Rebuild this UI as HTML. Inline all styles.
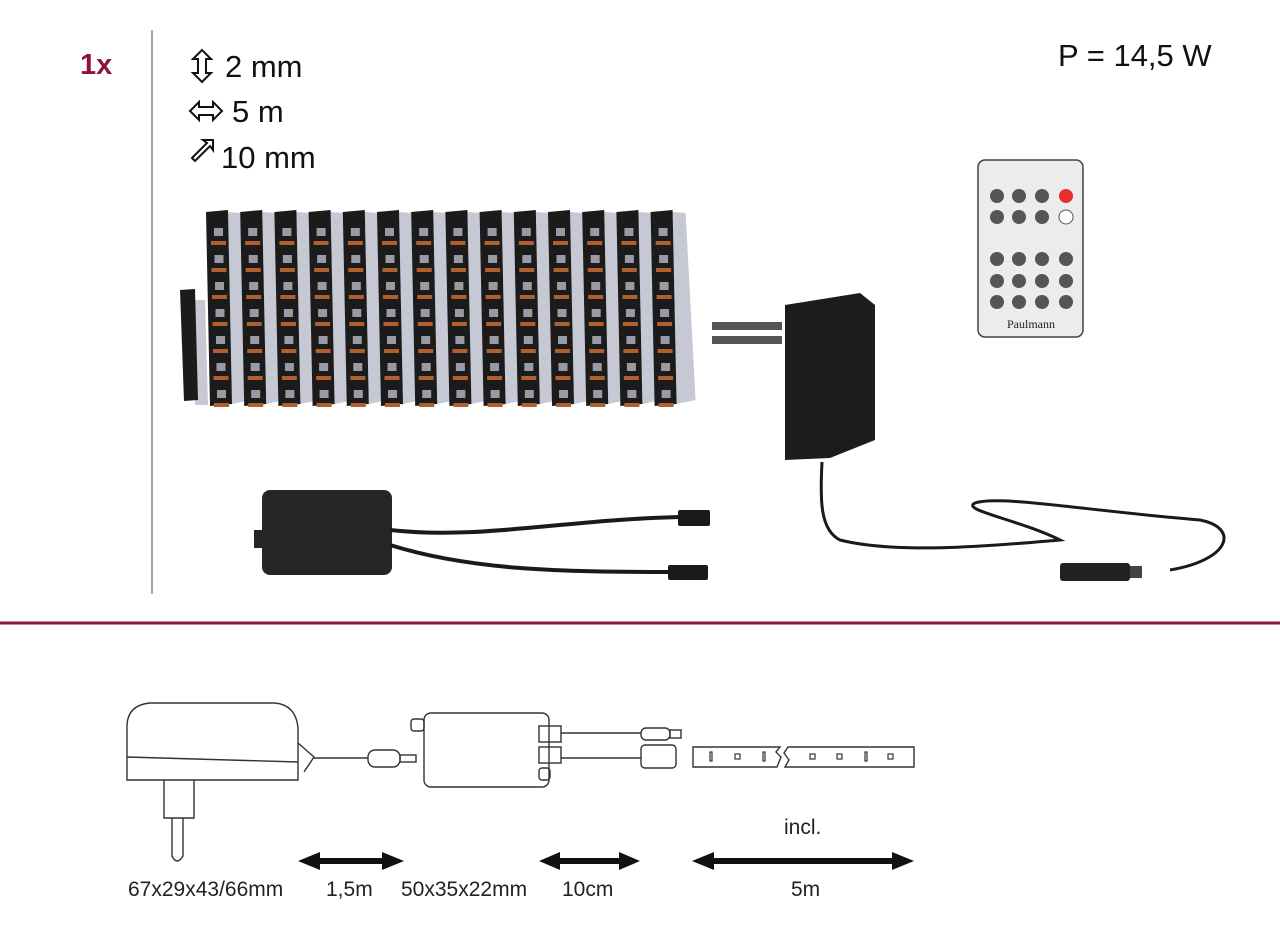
<!DOCTYPE html>
<html><head><meta charset="utf-8"><style>
html,body{margin:0;padding:0;background:#fff;}
body{width:1280px;height:943px;overflow:hidden;position:relative;font-family:"Liberation Sans","DejaVu Sans",sans-serif;}
</style></head><body>
<svg width="1280" height="943" viewBox="0 0 1280 943" xmlns="http://www.w3.org/2000/svg" style="position:absolute;left:0;top:0">
<line x1="152" y1="30" x2="152" y2="594" stroke="#888" stroke-width="1.5"/>
<line x1="0" y1="623" x2="1280" y2="623" stroke="#8a1538" stroke-width="3"/>
<text x="80" y="74" font-family="Liberation Sans" font-weight="bold" font-size="29" fill="#8a1538">1x</text>
<g font-family="Liberation Sans" font-size="31" fill="#111">
<text x="225" y="77">2 mm</text>
<text x="232" y="122">5 m</text>
<text x="221" y="168">10 mm</text>
<text x="1058" y="66">P = 14,5 W</text>
</g>
<g fill="#fff" stroke="#111" stroke-width="2">
<path d="M193 59 l9 -9 l9 9 h-5 v14 h5 l-9 9 l-9 -9 h5 v-14z"/>
<path d="M190 111 l9 -9 v5 h14 v-5 l9 9 l-9 9 v-5 h-14 v5z"/>
<path d="M192 158 l15 -15 l-4 -3 h10 v10 l-3 -4 l-15 15z"/>
</g>
<!-- controller -->
<rect x="262" y="490" width="130" height="85" rx="8" fill="#262626"/>
<rect x="254" y="530" width="12" height="18" fill="#262626"/>
<path d="M390 530 C480 540 560 520 680 517" stroke="#1a1a1a" stroke-width="4" fill="none"/>
<path d="M390 545 C470 570 560 572 670 572" stroke="#1a1a1a" stroke-width="4" fill="none"/>
<rect x="678" y="510" width="32" height="16" rx="2" fill="#1a1a1a"/>
<rect x="668" y="565" width="40" height="15" rx="2" fill="#1a1a1a"/>
<!-- adapter -->
<path d="M785 305 L860 293 L875 305 L875 440 L830 458 L785 460 Z" fill="#1c1c1c"/>
<rect x="712" y="322" width="70" height="8" fill="#555"/>
<rect x="712" y="336" width="70" height="8" fill="#555"/>
<path d="M822 462 C820 500 820 530 840 540 C900 555 1000 545 1060 540 C1020 520 960 510 975 503 C1000 495 1080 510 1200 520 C1240 528 1230 560 1170 570" stroke="#1a1a1a" stroke-width="3" fill="none"/>
<rect x="1060" y="563" width="70" height="18" rx="3" fill="#222"/>
<rect x="1130" y="566" width="12" height="12" fill="#444"/>
<!-- remote -->
<rect x="978" y="160" width="105" height="177" rx="7" fill="#ececec" stroke="#444" stroke-width="1.5"/>
<g fill="#555">
<circle cx="997" cy="196" r="7"/><circle cx="1019" cy="196" r="7"/><circle cx="1042" cy="196" r="7"/><circle cx="1066" cy="196" r="7" fill="#e53030"/>
<circle cx="997" cy="217" r="7"/><circle cx="1019" cy="217" r="7"/><circle cx="1042" cy="217" r="7"/><circle cx="1066" cy="217" r="7" fill="#fff" stroke="#555"/>
<circle cx="997" cy="259" r="7"/><circle cx="1019" cy="259" r="7"/><circle cx="1042" cy="259" r="7"/><circle cx="1066" cy="259" r="7"/>
<circle cx="997" cy="281" r="7"/><circle cx="1019" cy="281" r="7"/><circle cx="1042" cy="281" r="7"/><circle cx="1066" cy="281" r="7"/>
<circle cx="997" cy="302" r="7"/><circle cx="1019" cy="302" r="7"/><circle cx="1042" cy="302" r="7"/><circle cx="1066" cy="302" r="7"/>
</g>
<text x="1031" y="328" text-anchor="middle" font-family="Liberation Serif" font-size="12" fill="#222">Paulmann</text>
<!-- bottom line drawing -->
<g fill="none" stroke="#333" stroke-width="1.4">
<path d="M127 780 V725 Q128 705 150 703 H275 Q296 705 298 728 V780 Z"/>
<line x1="127" y1="757" x2="298" y2="762"/>
<path d="M298 743 L314 757 L304 772"/>
<path d="M314 758 H368"/>
<rect x="368" y="750" width="32" height="17" rx="7"/>
<rect x="400" y="755" width="16" height="7"/>
<path d="M164 780 V818 H194 V780"/>
<path d="M172 818 V856 Q177 866 183 856 V818"/>
<rect x="424" y="713" width="125" height="74" rx="7"/>
<rect x="411" y="719" width="13" height="12" rx="3"/>
<rect x="539" y="768" width="11" height="12" rx="3"/>
<rect x="539" y="726" width="22" height="16"/>
<rect x="539" y="747" width="22" height="16"/>
<path d="M561 733 H641 M561 758 H641"/>
<rect x="641" y="728" width="29" height="12" rx="5"/>
<rect x="670" y="730" width="11" height="8"/>
<rect x="641" y="745" width="35" height="23" rx="4"/>
<path d="M693 747 H780 L776 752 L781 757 L777 767 H693Z M788 747 H914 V767 H785 L789 760 L784 753Z"/>
</g>
<g fill="none" stroke="#333" stroke-width="1.2">
<rect x="710" y="752" width="2" height="9"/><rect x="735" y="754" width="5" height="5"/><rect x="763" y="752" width="2" height="9"/>
<rect x="810" y="754" width="5" height="5"/><rect x="837" y="754" width="5" height="5"/><rect x="865" y="752" width="2" height="9"/><rect x="888" y="754" width="5" height="5"/>
</g>
<g fill="#111">
<path d="M298 861 L320 852 V858 H382 V852 L404 861 L382 870 V864 H320 V870Z"/>
<path d="M539 861 L560 852 V858 H619 V852 L640 861 L619 870 V864 H560 V870Z"/>
<path d="M692 861 L714 852 V858 H892 V852 L914 861 L892 870 V864 H714 V870Z"/>
</g>
<g font-family="Liberation Sans" font-size="21" fill="#222">
<text x="128" y="896">67x29x43/66mm</text>
<text x="326" y="896">1,5m</text>
<text x="401" y="896">50x35x22mm</text>
<text x="562" y="896">10cm</text>
<text x="791" y="896">5m</text>
<text x="784" y="834">incl.</text>
</g>
</svg>
<svg width="1280" height="943" style="position:absolute;left:0;top:0" xmlns="http://www.w3.org/2000/svg">
<g id="loops"></g>
</svg>
<script>
var g=document.getElementById('loops'),s='';
s+='<path d="M190 300 L205 300 L208 405 L195 405Z" fill="#c6c8d4"/>';
for(var i=0;i<14;i++){var x=206+i*34.2;
s+='<path d="M'+(x+22)+' 212 L'+(x+35)+' 213 L'+(x+45)+' 400 L'+(x+26)+' 404 Z" fill="#c6c8d4"/>';
s+='<path d="M'+x+' 212 L'+(x+22)+' 210 L'+(x+26)+' 404 L'+(x+4)+' 406 Z" fill="#1b1b1b"/>';
for(var k=0;k<7;k++){var y=228+k*27;
s+='<rect x="'+(x+8+k*0.5)+'" y="'+y+'" width="9" height="8" fill="#9a9aa4"/>';
s+='<rect x="'+(x+5+k*0.5)+'" y="'+(y+13)+'" width="15" height="4" fill="#b0602c"/>';}
}
s+='<path d="M180 290 L195 289 L198 400 L184 401Z" fill="#1b1b1b"/>';
g.innerHTML=s;
</script>
</body></html>
